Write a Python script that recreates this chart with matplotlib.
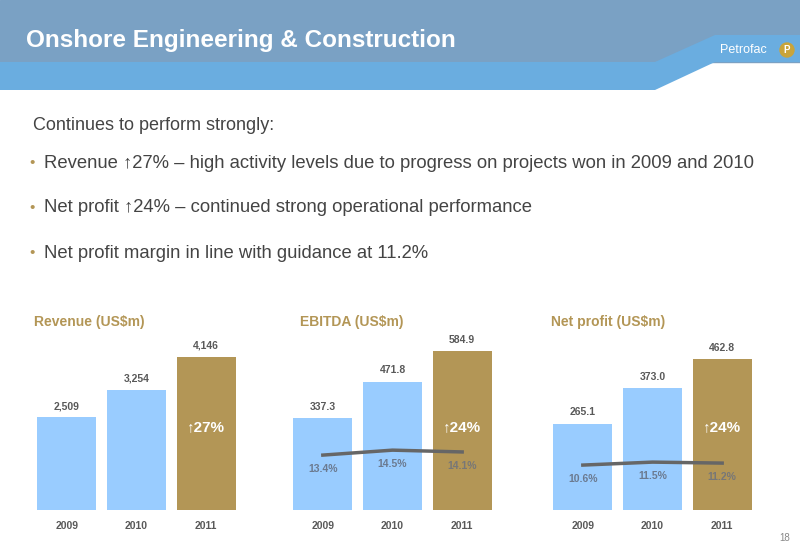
import matplotlib.pyplot as plt
from matplotlib.patches import Polygon, Rectangle, Circle
import numpy as np

years = ["2009", "2010", "2011"]
revenue = [2509, 3254, 4146]
ebitda = [337.3, 471.8, 584.9]
ebitda_margin = [13.4, 14.5, 14.1]
net_profit = [265.1, 373.0, 462.8]
net_margin = [10.6, 11.5, 11.2]

W, H = 800, 554
BLUE = "#99CCFF"
GOLD = "#B39656"
GREY = "#595959"
LINE = "#666666"
plt.rcParams["font.family"] = ["Liberation Sans", "DejaVu Sans"]

fig = plt.figure(figsize=(8, 5.54), dpi=100)
bg = fig.add_axes([0, 0, 1, 1])
bg.set_xlim(0, W)
bg.set_ylim(H, 0)
bg.axis("off")

# header band
bg.add_patch(Rectangle((0, 0), W, 62, color="#7AA1C4"))
s = 0.5 - 0.5 * np.cos(np.linspace(0, np.pi, 30))
top = list(zip(655 + 60 * s, 62 - 27 * s))
bot = list(zip(655 + 60 * s, 90 - 28 * s))
poly = [(0, 62)] + top + [(W, 35), (W, 62)] + bot[::-1] + [(0, 90)]
bg.add_patch(Polygon(poly, closed=True, color="#6AADE0", lw=0))
bg.text(26, 40, "Onshore Engineering & Construction", color="white",
        fontsize=17.5, fontweight="bold", va="center")
bg.text(720, 50, "Petrofac", color="white", fontsize=9, va="center")
bg.add_patch(Circle((787, 50), 7, color="#C9A43A"))
bg.text(787, 50, "P", color="white", fontsize=7, ha="center", va="center", fontweight="bold")

# bullets
bg.text(33, 126, "Continues to perform strongly:", fontsize=13, color="#444444", va="center")
bullets = ["Revenue \u219127% \u2013 high activity levels due to progress on projects won in 2009 and 2010",
           "Net profit \u219124% \u2013 continued strong operational performance",
           "Net profit margin in line with guidance at 11.2%"]
for i, b in enumerate(bullets):
    y = 163 + i * 45
    bg.text(29, y, "\u2022", color=GOLD, fontsize=11, va="center")
    bg.text(44, y, b, fontsize=13.3, color="#444444", va="center")
bg.text(790, 538, "18", fontsize=7, color="#888888", ha="right", va="center")


def panel(x0, x1, title, tx, values, top, fmt, growth, margin=None, mlim=None):
    ax = fig.add_axes([x0 / W, (H - 510) / H, (x1 - x0) / W, 180 / H])
    ax.bar(range(3), values, width=0.85, color=[BLUE, BLUE, GOLD])
    ax.set_xlim(-0.5, 2.5)
    ax.set_ylim(0, top)
    ax.axis("off")
    for i, v in enumerate(values):
        ax.text(i, v + top * 0.035, fmt.format(v), ha="center", va="bottom",
                fontsize=7.5, fontweight="bold", color=GREY)
        ax.text(i, -top * 0.06, years[i], ha="center", va="top",
                fontsize=7.5, fontweight="bold", color=GREY)
    ax.text(2, top * 0.46, "\u2191" + growth, ha="center", va="center",
            fontsize=11, fontweight="bold", color="white")
    fig.text(tx / W, 1 - 322 / H, title, fontsize=10, fontweight="bold",
             color=GOLD, va="center")
    if margin is not None:
        ax2 = ax.twinx()
        ax2.set_ylim(*mlim)
        ax2.axis("off")
        ax2.plot(range(3), margin, color=LINE, lw=2.5)
        for i, m in enumerate(margin):
            ax2.text(i, m - (mlim[1] - mlim[0]) * 0.05, f"{m:.1f}%", ha="center",
                     va="top", fontsize=7.5, fontweight="bold",
                     color="#777777" if i == 2 else "#6B7A90")


panel(32, 241, "Revenue (US$m)", 34, revenue, 4878, "{:,.0f}", "27%")
panel(288, 497, "EBITDA (US$m)", 300, ebitda, 662, "{:.1f}", "24%",
      ebitda_margin, (1.2, 41.2))
panel(548, 757, "Net profit (US$m)", 551, net_profit, 551.7, "{:.1f}", "24%",
      net_margin, (-3.0, 51.5))

fig.savefig("out.png", dpi=100)
